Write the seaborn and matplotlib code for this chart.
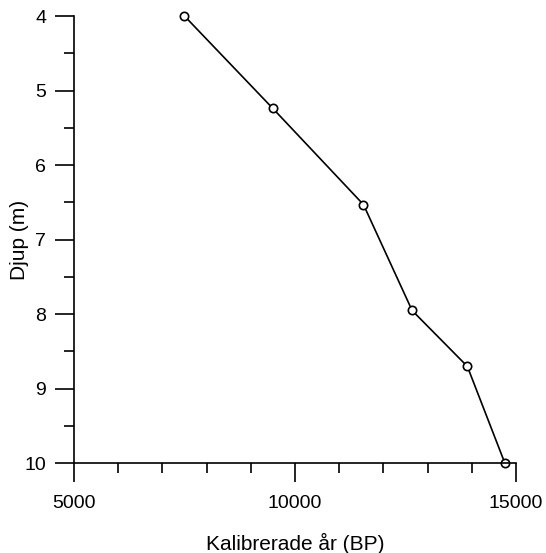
# djup mot kalibrerad ålder

import numpy as np
import pandas as pd
import matplotlib.pyplot as plt
from matplotlib.ticker import MultipleLocator
import seaborn as sns

alder = [7500, 9500, 11550, 12650, 13900, 14750]
djup = [4.0, 5.24, 6.53, 7.95, 8.70, 10.0]
x_ticks = [5000, 10000, 15000]
y_ticks = [4, 5, 6, 7, 8, 9, 10]

df = pd.DataFrame({'alder': alder, 'djup': djup})

sns.set_style('ticks')
plt.rcParams['font.family'] = ['Liberation Sans', 'DejaVu Sans']
plt.rcParams['text.color'] = 'black'
plt.rcParams['axes.labelcolor'] = 'black'

fig = plt.figure(figsize=(5.46, 5.53), dpi=100)
ax = fig.add_axes([0.1355, 0.1622, 0.8095, 0.8088])

sns.lineplot(data=df, x='alder', y='djup', sort=False, ax=ax,
             color='black', linewidth=1.2, clip_on=False,
             marker='o', markersize=6, markerfacecolor='white',
             markeredgecolor='black', markeredgewidth=1.2)

ax.set_xlim(5000, 15000)
ax.set_ylim(10, 4)
ax.set_xticks(x_ticks)
ax.set_yticks(y_ticks)
ax.xaxis.set_minor_locator(MultipleLocator(1000))
ax.yaxis.set_minor_locator(MultipleLocator(0.5))

sns.despine(ax=ax)
for s in ['left', 'bottom']:
    ax.spines[s].set_linewidth(1.2)
    ax.spines[s].set_color('black')

ax.tick_params(which='major', direction='out', length=14, width=1.2,
               color='black', labelsize=14, labelcolor='black')
ax.tick_params(which='minor', direction='out', length=7, width=1.2, color='black')
ax.tick_params(axis='x', which='major', pad=9)
ax.tick_params(axis='y', which='major', pad=6)

ax.set_xlabel('Kalibrerade år (BP)', fontsize=15)
ax.set_ylabel('Djup (m)', fontsize=15)
ax.xaxis.set_label_coords(0.5, -0.156)
ax.yaxis.set_label_coords(-0.102, 0.5)

plt.savefig('out.png', dpi=100)
